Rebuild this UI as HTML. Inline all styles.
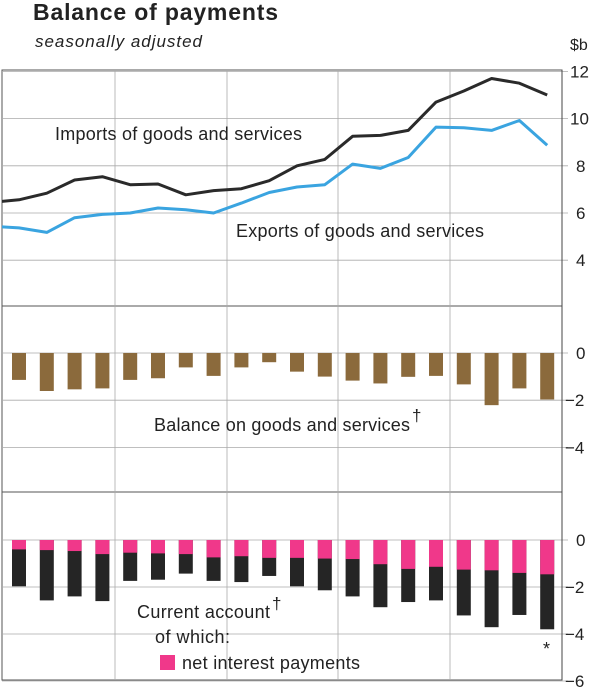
<!DOCTYPE html>
<html><head><meta charset="utf-8"><style>
body{margin:0;background:#fff;width:600px;height:693px;overflow:hidden;font-family:"Liberation Sans",sans-serif}
svg text{font-family:"Liberation Sans",sans-serif;fill:#222}
</style></head><body>
<svg width="600" height="693" viewBox="0 0 600 693">
<text x="33" y="20" font-size="23" font-weight="bold" textLength="245">Balance of payments</text>
<text x="35" y="47" font-size="17" font-style="italic" fill="#333" textLength="167">seasonally adjusted</text>
<text x="570" y="50" font-size="16">$b</text>
<defs><clipPath id="topclip"><rect x="2" y="70" width="560" height="236"/></clipPath></defs>
<g id="grid"></g>
<g id="marks"></g>
<g id="labels"></g>
</svg>
<script>
const NS='http://www.w3.org/2000/svg';
const imports=[6.45,6.56,6.84,7.4,7.54,7.2,7.23,6.77,6.95,7.03,7.37,8.0,8.27,9.25,9.29,9.5,10.7,11.17,11.7,11.5,11.0];
const exports=[5.44,5.37,5.18,5.8,5.94,6.0,6.21,6.14,6.0,6.42,6.87,7.1,7.2,8.07,7.89,8.35,9.64,9.61,9.5,9.92,8.87];
const balance=[-1.14,-1.61,-1.54,-1.5,-1.14,-1.07,-0.61,-0.97,-0.61,-0.39,-0.79,-1.0,-1.17,-1.29,-1.01,-0.97,-1.33,-2.21,-1.5,-1.97];
const interest=[-0.4,-0.43,-0.47,-0.6,-0.54,-0.57,-0.6,-0.74,-0.69,-0.76,-0.76,-0.79,-0.81,-1.03,-1.23,-1.14,-1.26,-1.29,-1.4,-1.46];
const current=[-1.97,-2.57,-2.4,-2.6,-1.74,-1.69,-1.43,-1.74,-1.79,-1.53,-1.97,-2.14,-2.4,-2.86,-2.64,-2.57,-3.21,-3.71,-3.19,-3.8];
const topTicks=[12,10,8,6,4];
const midTicks=[0,-2,-4];
const botTicks=[0,-2,-4,-6];

const X=i=>19+27.8*i;
const yTop=v=>213-(v-6)*23.6;
const yMid=v=>353-v*23.6;
const yBot=v=>540-v*23.5;
const L=562;
const grid=document.getElementById('grid'),marks=document.getElementById('marks'),labels=document.getElementById('labels');
function mk(tag,attrs,parent){const e=document.createElementNS(NS,tag);for(const k in attrs)e.setAttribute(k,attrs[k]);parent.appendChild(e);return e;}

[[70,306],[306,492],[492,680]].forEach(([t,b])=>{
  const r=mk('rect',{x:2,y:t,width:L-2,height:b-t,fill:'none',stroke:'#555','stroke-width':1},grid);
  
  
});
[115,227,338,450].forEach(x=>{
  const l=mk('line',{x1:x,y1:70,x2:x,y2:680,stroke:'#aaa','stroke-width':0.8},grid);
  
  
});
function hticks(ticks,yf){
  ticks.forEach(v=>{
    const y=yf(v);
    const g=mk('line',{x1:2,y1:y,x2:L+6,y2:y,stroke:'#aaa','stroke-width':0.8},grid);
    
    
    const t=mk('text',{x:v<0?565:(v>=10?570:576),y:y+6,'font-size':17},labels);
    t.textContent=v<0?'\u2212'+Math.abs(v):String(v);
    
    
  });
}
hticks(topTicks,yTop);hticks(midTicks,yMid);hticks(botTicks,yBot);

function line(arr,color,name){
  const d=arr.map((v,i)=>(i?'L':'M')+X(i-1).toFixed(1)+','+yTop(v).toFixed(1)).join('');
  const p=mk('path',{d:d,fill:'none',stroke:color,'stroke-width':3,'stroke-linejoin':'round','clip-path':'url(#topclip)'},marks);
  
  
}
line(exports,'#3aa4e0','exports-line');
line(imports,'#2a2a2a','imports-line');

const BW=14;
balance.forEach((v,i)=>{
  const r=mk('rect',{x:X(i)-BW/2,y:yMid(0),width:BW,height:yMid(v)-yMid(0),fill:'#8b6a3c'},marks);
  
  
});
current.forEach((v,i)=>{
  const r=mk('rect',{x:X(i)-BW/2,y:yBot(0),width:BW,height:yBot(v)-yBot(0),fill:'#252525'},marks);
  
  
  const p=mk('rect',{x:X(i)-BW/2,y:yBot(0),width:BW,height:yBot(interest[i])-yBot(0),fill:'#f0388a'},marks);
  
  
});
const ax=mk('line',{x1:L,y1:70,x2:L,y2:680,stroke:'#444','stroke-width':1},grid);


</script>
<svg style="position:absolute;left:0;top:0" width="600" height="693">
<text x="55" y="140" font-size="18" textLength="247">Imports of goods and services</text>
<text x="236" y="237" font-size="18" textLength="248">Exports of goods and services</text>
<g><text x="154" y="431" font-size="18" textLength="256">Balance on goods and services</text><text x="412" y="421" font-size="17">†</text></g>
<g><text x="137" y="618" font-size="18" textLength="133">Current account</text><text x="272" y="609" font-size="17">†</text><text x="155" y="643" font-size="18" textLength="75">of which:</text></g>
<rect x="160" y="655" width="15" height="15" fill="#f0388a"/>
<text x="182" y="669" font-size="18" textLength="178">net interest payments</text>
<text x="543" y="655" font-size="18">*</text>
</svg>
</body></html>
